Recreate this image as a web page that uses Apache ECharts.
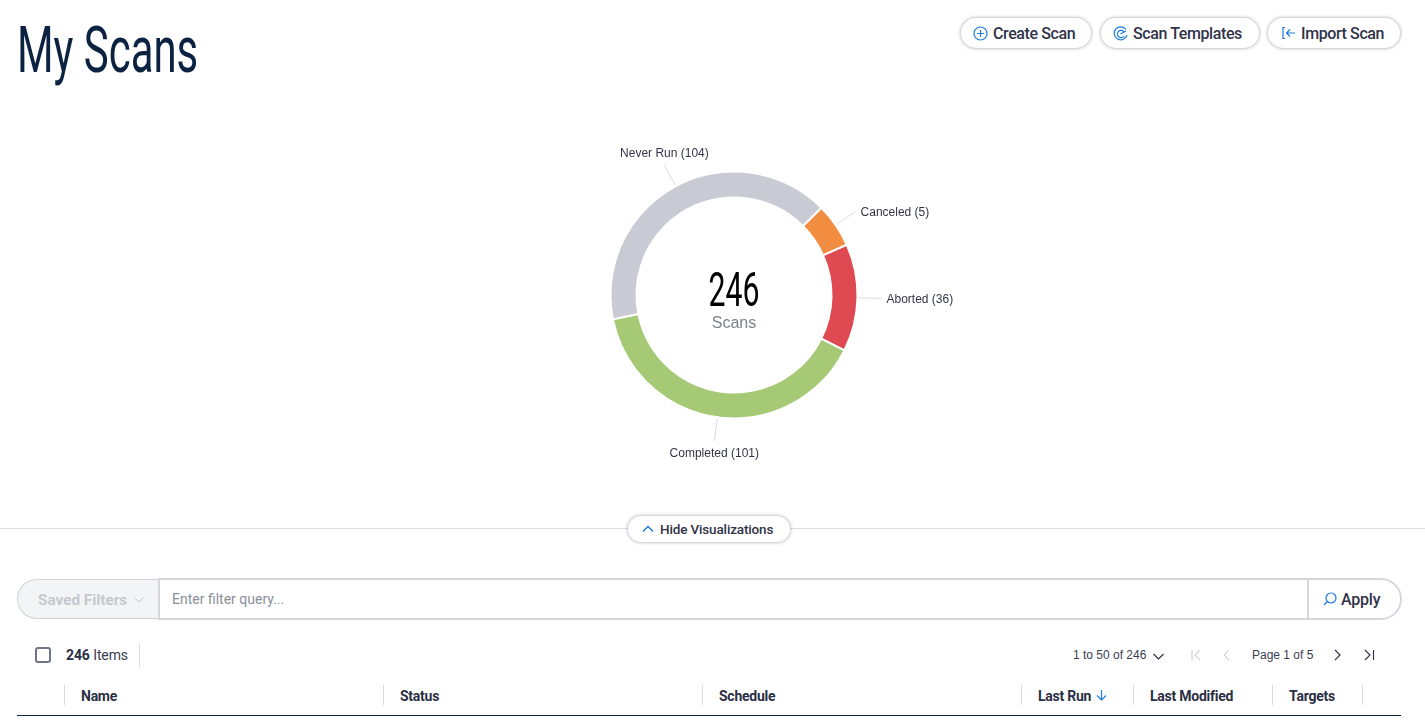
<!DOCTYPE html>
<html>
<head>
<meta charset="utf-8">
<title>My Scans</title>
<script src="https://cdn.jsdelivr.net/npm/echarts@6/dist/echarts.min.js"></script>
<style>
  html, body { margin: 0; padding: 0; background: #fff; width: 1425px; height: 724px; overflow: hidden; font-family: Roboto, sans-serif; }
  #chart { position: absolute; left: 0; top: 0; width: 1425px; height: 724px; }
  .abs { position: absolute; white-space: nowrap; }
  h1.abs { margin: 0; left: 17px; top: 14px; font: 400 64px/74px Roboto, sans-serif; color: #0b2341; transform: scaleX(.655); transform-origin: left center; }
  .pill { position: absolute; box-sizing: border-box; background: #fff; border-radius: 16px; box-shadow: 0 0 3px 1px rgba(120,125,145,.45); display: flex; align-items: center; color: #2f3348; font: 500 16px Roboto, sans-serif; letter-spacing: -.4px; }
  .pill svg { margin-right: 5px; flex: none; }
  .hdiv { position: absolute; left: 0; top: 528px; width: 1425px; height: 1px; background: #dcdde1; }
  .hdr { position: absolute; top: 688px; font: 700 14px/16px Roboto, sans-serif; color: #2b2f45; letter-spacing: -.25px; }
  .vline { position: absolute; width: 1px; background: #d9dbe0; }
  .pager { position: absolute; top: 648px; font: 12px/14px "Liberation Sans", sans-serif; color: #3a3d52; }
  svg.ico { position: absolute; overflow: visible; }
</style>
</head>
<body>
<h1 class="abs">My Scans</h1>

<div class="pill" style="left:961px;top:18px;width:130px;height:30px;padding-left:12px">
  <svg width="15" height="15" viewBox="0 0 15 15" fill="none" stroke="#1f7ae0" stroke-width="1.2"><circle cx="7.5" cy="7.5" r="6.5"/><path d="M7.5 4v7M4 7.5h7"/></svg>Create Scan</div>
<div class="pill" style="left:1101px;top:18px;width:158px;height:30px;padding-left:12px">
  <svg width="15" height="15" viewBox="0 0 15 15" fill="none" stroke="#1f7ae0" stroke-width="1.2"><path d="M13 3.5A6.5 6.5 0 1 0 14 9"/><path d="M11 6A3.6 3.6 0 1 0 11 10"/><path d="M7.5 8L13 5"/></svg>Scan Templates</div>
<div class="pill" style="left:1268px;top:18px;width:132px;height:30px;padding-left:14px">
  <svg width="14" height="14" viewBox="0 0 14 14" fill="none" stroke="#1f7ae0" stroke-width="1.2"><path d="M3 1.5H1v11h2"/><path d="M13 7H5M8 3.5L4.5 7 8 10.500"/></svg>Import Scan</div>

<div class="hdiv"></div>
<div class="pill" style="left:628px;top:516px;width:162px;height:26px;border-radius:13px;padding-left:14px;font-size:13.500px;letter-spacing:-.15px">
  <svg width="12" height="8" viewBox="0 0 12 8" fill="none" stroke="#1f7ae0" stroke-width="1.4" style="margin-right:6px"><path d="M1 6.500L6 1.500l5 5"/></svg>Hide Visualizations</div>

<div class="abs" style="left:17px;top:579px;width:142px;height:40px;box-sizing:border-box;background:#f3f4f6;border:1px solid #cfd2d9;border-right:none;border-radius:20px 0 0 20px"></div>
<div class="abs" style="left:38px;top:592px;font:700 15.300px/17px Roboto,sans-serif;color:#c5c8d0">Saved Filters</div>
<svg class="ico" style="left:134px;top:597px" width="10" height="6" fill="none" stroke="#c5c8d0"><path d="M.5.5l4.500 4.500L9.500.5"/></svg>
<div class="abs" style="left:158px;top:578px;width:1244px;height:42px;box-sizing:border-box;background:#fff;border:2px solid #d5d7dc;border-radius:0 21px 21px 0"></div>
<div class="abs" style="left:1307px;top:579px;width:2px;height:40px;background:#d5d7dc"></div>
<div class="abs" style="left:172px;top:591px;font:14px/17px Roboto,sans-serif;color:#8b8f9a">Enter filter query...</div>
<svg class="ico" style="left:1323px;top:592px" width="14" height="14" fill="none" stroke="#1f7ae0" stroke-width="1.200"><circle cx="8" cy="6" r="5"/><path d="M4.500 9.500L1 13"/></svg>
<div class="abs" style="left:1341px;top:590px;font:500 16px/19px Roboto,sans-serif;color:#2f3348;letter-spacing:-.2px">Apply</div>

<div class="abs" style="left:35px;top:647px;width:16px;height:16px;box-sizing:border-box;border:2px solid #6f7587;border-radius:3px"></div>
<div class="abs" style="left:66px;top:647px;font:14px/16px Roboto,sans-serif;color:#3a3d52;letter-spacing:-.1px"><b style="color:#2b2f45">246</b> Items</div>
<div class="vline" style="left:139px;top:643px;height:24px"></div>

<div class="pager" style="left:1073px">1 to 50 of 246</div>
<svg class="ico" style="left:1153px;top:653px" width="11" height="7" fill="none" stroke="#2b2f45" stroke-width="1.200"><path d="M.5 1l5 5 5-5"/></svg>
<svg class="ico" style="left:1191px;top:650px" width="10" height="10" fill="none" stroke="#c3c6ce"><path d="M1 0v10M9 0L4 5l5 5"/></svg>
<svg class="ico" style="left:1223px;top:650px" width="7" height="10" fill="none" stroke="#c3c6ce"><path d="M6 0L1 5l5 5"/></svg>
<div class="pager" style="left:1252px">Page 1 of 5</div>
<svg class="ico" style="left:1334px;top:650px" width="7" height="10" fill="none" stroke="#2b2f45" stroke-width="1.100"><path d="M1 0l5 5-5 5"/></svg>
<svg class="ico" style="left:1365px;top:650px" width="10" height="10" fill="none" stroke="#2b2f45" stroke-width="1.100"><path d="M0 0l5 5-5 5M8.500 0v10"/></svg>

<div class="vline" style="left:64px;top:685px;height:20px"></div>
<div class="vline" style="left:383px;top:685px;height:20px"></div>
<div class="vline" style="left:702px;top:685px;height:20px"></div>
<div class="vline" style="left:1021px;top:685px;height:20px"></div>
<div class="vline" style="left:1133px;top:685px;height:20px"></div>
<div class="vline" style="left:1272px;top:685px;height:20px"></div>
<div class="vline" style="left:1362px;top:685px;height:20px"></div>
<div class="hdr" style="left:81px">Name</div>
<div class="hdr" style="left:400px">Status</div>
<div class="hdr" style="left:719px">Schedule</div>
<div class="hdr" style="left:1038px">Last Run</div>
<svg class="ico" style="left:1096px;top:690px" width="11" height="11" fill="none" stroke="#1f7ae0" stroke-width="1.200"><path d="M5.500 0v10M1 5.500l4.500 4.500L10 5.500"/></svg>
<div class="hdr" style="left:1150px">Last Modified</div>
<div class="hdr" style="left:1289px">Targets</div>
<div class="abs" style="left:17px;top:715px;width:1384px;height:1px;background:#0b2341"></div>

<div id="chart"></div>

<script>
const categories = ['Canceled', 'Aborted', 'Completed', 'Never Run'];
const scanCounts = [5, 36, 101, 104];
const sliceColors = ['#f28c41', '#df4a52', '#a5c975', '#c8cbd3'];
const totalScans = 246;
const centerLabel = 'Scans';

const chart = echarts.init(document.getElementById('chart'));

// top and bottom labels sit centered on the end of their line, not beside it
const labelLayout = (params) => {
  const name = categories[params.dataIndex];
  if (name === 'Never Run') return { align: 'center', dx: 5, dy: -11, labelLinePoints: params.labelLinePoints };
  if (name === 'Completed') return { align: 'center', dx: 5, dy: 13, labelLinePoints: params.labelLinePoints };
  return { dy: 1, labelLinePoints: params.labelLinePoints };
};

chart.setOption({
  backgroundColor: 'transparent',
  animation: false,
  tooltip: { show: false },
  graphic: [
    {
      type: 'text', x: 734, y: 294, scaleX: 0.63,
      style: { text: String(totalScans), font: '48px Roboto', fill: '#000', align: 'center', verticalAlign: 'middle' },
      silent: true
    },
    {
      type: 'text', x: 734, y: 324,
      style: { text: centerLabel, font: '16px "Liberation Sans"', fill: '#7d8189', align: 'center', verticalAlign: 'middle' },
      silent: true
    }
  ],
  series: [{
    type: 'pie',
    center: [734, 295],
    radius: [97.5, 123.5],
    startAngle: 45,
    minAngle: 21,
    clockwise: true,
    avoidLabelOverlap: false,
    itemStyle: { borderColor: '#fff', borderWidth: 2 },
    label: {
      formatter: '{b} ({c})',
      color: '#33364a',
      fontFamily: '"Liberation Sans"',
      fontSize: 12
    },
    labelLine: { length: 24, length2: 0, lineStyle: { color: '#d9dbe0', width: 1 } },
    labelLayout,
    emphasis: { disabled: true },
    data: categories.map((name, i) => ({ name, value: scanCounts[i], itemStyle: { color: sliceColors[i] } }))
  }]
});
</script>
</body>
</html>
